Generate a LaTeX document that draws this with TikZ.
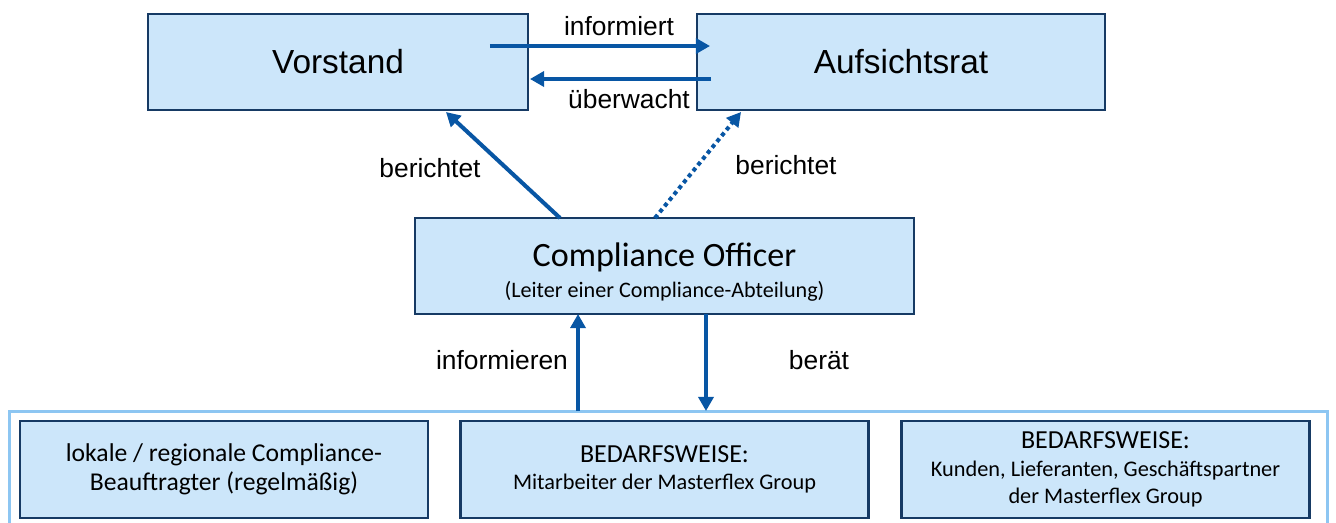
\documentclass[tikz,border=0pt]{standalone}
\usepackage{fontspec}
\setmainfont{Liberation Sans}
\newfontfamily\calibri{Carlito}
\usetikzlibrary{arrows.meta,positioning}
\definecolor{boxfill}{RGB}{204,230,250}
\definecolor{boxline}{RGB}{22,58,100}
\definecolor{flowblue}{RGB}{8,86,164}
\definecolor{framelight}{RGB}{141,198,242}

\begin{document}
\begin{tikzpicture}[x=0.02cm,y=-0.02cm,
	topbox/.style={draw=boxline,fill=boxfill,line width=1.6pt,inner sep=0pt,outer sep=0pt,
		minimum height=1.92cm,font=\fontsize{19}{23}\selectfont},
	midbox/.style={draw=boxline,fill=boxfill,line width=1.6pt,inner sep=0pt,outer sep=0pt,
		minimum width=9.98cm,minimum height=1.92cm},
	basebox/.style={draw=boxline,fill=boxfill,line width=1.6pt,inner sep=0pt,outer sep=0pt,
		minimum width=8.16cm,minimum height=1.94cm,align=center,
		font=\calibri\fontsize{12.7}{15.6}\selectfont},
	frame/.style={draw=framelight,line width=1.7pt,inner sep=0pt,outer sep=0pt,
		minimum width=26.38cm,minimum height=2.38cm},
	flow/.style={draw=flowblue,line width=2.3pt,-{Triangle[length=8pt,width=8.5pt]}},
	lbl/.style={font=\fontsize{15}{18}\selectfont}]
	\useasboundingbox (0,0) rectangle (1336,522);

	% top level
	\node[topbox,minimum width=7.6cm] (vorstand) at (338,62) {Vorstand};
	\node[topbox,minimum width=8.16cm] (aufsicht) at (901,62) {Aufsichtsrat};

	% compliance officer
	\node[midbox] (officer) at (664.5,266) {};
	\node[align=center,font=\calibri\fontsize{12.6}{17.4}\selectfont] (officer-txt) at (664.5,272)
		{{\fontsize{19.4}{17.4}\selectfont Compliance Officer}\\
		 (Leiter einer Compliance-Abteilung)};

	% bottom group
	\node[frame] (frame) at (668.5,470.5) {};
	\node[basebox,font=\calibri\fontsize{14.6}{16.8}\selectfont] (lokal) at (224,469.5)
		{lokale / regionale Compliance-\\Beauftragter (regelmäßig)};
	\node[basebox] (staff) at (664.5,469.5)
		{{\fontsize{14.8}{15.6}\selectfont BEDARFSWEISE:}\\[-0.5pt]
		 Mitarbeiter der Masterflex Group};
	\node[basebox] (partner) at (1105.5,469.5)
		{{\fontsize{14.8}{15.6}\selectfont BEDARFSWEISE:}\\
		 Kunden, Lieferanten, Geschäftspartner\\der Masterflex Group};

	% connectors
	\coordinate (inf-a) at ([xshift=-0.76cm,yshift=0.32cm]vorstand.east);
	\coordinate (inf-b) at ([xshift=0.26cm,yshift=0.32cm]aufsicht.west);
	\coordinate (ueb-a) at ([xshift=0.28cm,yshift=-0.34cm]aufsicht.west);
	\coordinate (ueb-b) at ([xshift=0.04cm,yshift=-0.34cm]vorstand.east);
	\draw[flow] (inf-a) -- (inf-b);
	\draw[flow] (ueb-a) -- (ueb-b);

	\draw[flow] ([xshift=-2.09cm]officer.north) -- ([xshift=2.16cm,yshift=-0.04cm]vorstand.south);
	\draw[flow,dotted,line cap=butt] ([xshift=-0.19cm]officer.north) -- ([xshift=-3.2cm,yshift=-0.04cm]aufsicht.south);

	\coordinate (up) at ([xshift=-1.73cm]officer.south);
	\coordinate (down) at ([xshift=0.83cm]officer.south);
	\draw[flow] (up |- frame.north) -- (up);
	\draw[flow] (down) -- (down |- frame.north);

	% labels
	\node[lbl] (l-inf) at (619,26) {informiert};
	\node[lbl] (l-ueb) at (629,99) {überwacht};
	\node[lbl] (l-ber1) at (430,168) {berichtet};
	\node[lbl] (l-ber2) at (786,165) {berichtet};
	\node[lbl] (l-infn) at (502,360) {informieren};
	\node[lbl] (l-bert) at (819,360) {berät};
\end{tikzpicture}
\end{document}
